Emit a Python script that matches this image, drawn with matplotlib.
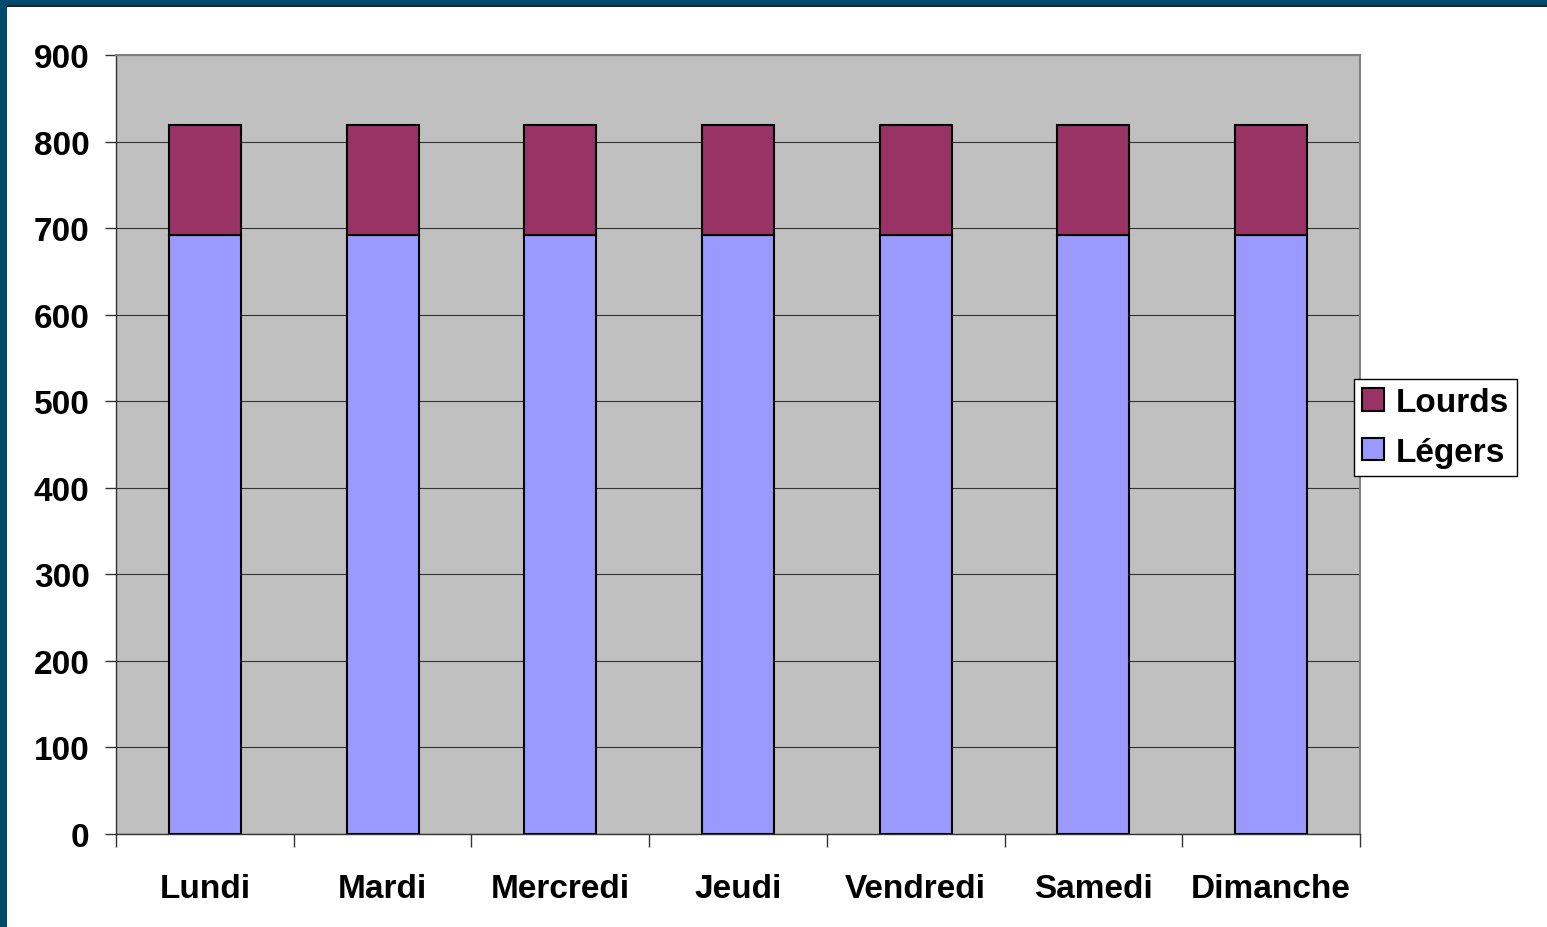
import matplotlib.pyplot as plt
import numpy as np
from matplotlib.patches import Rectangle

# Données : nombre de véhicules par jour
jours = ["Lundi", "Mardi", "Mercredi", "Jeudi", "Vendredi", "Samedi", "Dimanche"]
legers = [692, 692, 692, 692, 692, 692, 692]
lourds = [127, 127, 127, 127, 127, 127, 127]

plt.rcParams['font.family'] = ['Liberation Sans', 'DejaVu Sans']
plt.rcParams['font.weight'] = 'bold'

fig = plt.figure(figsize=(15.47, 9.28), dpi=100)
fig.patch.set_facecolor('white')

# cadre bleu foncé en haut et à gauche
fig.patches.append(Rectangle((0, 1 - 6 / 928), 1, 6 / 928, transform=fig.transFigure,
                             facecolor='#004A6C', edgecolor='none', zorder=0))
fig.patches.append(Rectangle((0, 1 - 8 / 928), 1, 2 / 928, transform=fig.transFigure,
                             facecolor='#1a2630', edgecolor='none', zorder=0))
fig.patches.append(Rectangle((0, 0), 7 / 1547, 1, transform=fig.transFigure,
                             facecolor='#004A6C', edgecolor='none', zorder=0))

ax = fig.add_axes([116 / 1547, 1 - 835 / 928, (1360 - 116) / 1547, (835 - 56) / 928])
ax.set_facecolor('#C0C0C0')

x = np.arange(len(jours))
w = 0.405
b1 = ax.bar(x, legers, width=w, color='#9999FF', edgecolor='black', linewidth=1.5,
            label='Légers', zorder=3)
b2 = ax.bar(x, lourds, width=w, bottom=legers, color='#993366', edgecolor='black',
            linewidth=1.5, label='Lourds', zorder=3)

ax.set_xlim(-0.5, len(jours) - 0.5)
ax.set_ylim(0, 900)
ax.set_yticks(np.arange(0, 901, 100))
ax.yaxis.grid(True, color='#333333', linewidth=0.8, zorder=1)
ax.set_axisbelow(True)

ax.set_xticks(x)
ax.set_xticklabels(jours, fontsize=24, fontweight='bold')
ax.set_xticks(np.arange(-0.5, len(jours)), minor=True)
ax.tick_params(axis='x', which='major', length=0, pad=28)
ax.tick_params(axis='x', which='minor', length=9, width=1, color='#333333', direction='out')
ax.tick_params(axis='y', labelsize=24, length=8, width=1, color='#333333', pad=11)
for lab in ax.get_yticklabels():
    lab.set_fontweight('bold')

for side in ['top', 'right']:
    ax.spines[side].set_color('#808080')
    ax.spines[side].set_linewidth(1.5)
for side in ['left', 'bottom']:
    ax.spines[side].set_color('#333333')
    ax.spines[side].set_linewidth(1)

leg = ax.legend(handles=[b2, b1], loc='center left', bbox_to_anchor=(0.995, 0.522),
                frameon=True, fancybox=False, framealpha=1, edgecolor='black',
                prop={'size': 24, 'weight': 'bold'}, handlelength=0.65, handleheight=0.65,
                handletextpad=0.35, borderpad=0.25, labelspacing=0.55, borderaxespad=0)
leg.get_frame().set_linewidth(1)

fig.savefig('out.png', dpi=100, facecolor='white')
